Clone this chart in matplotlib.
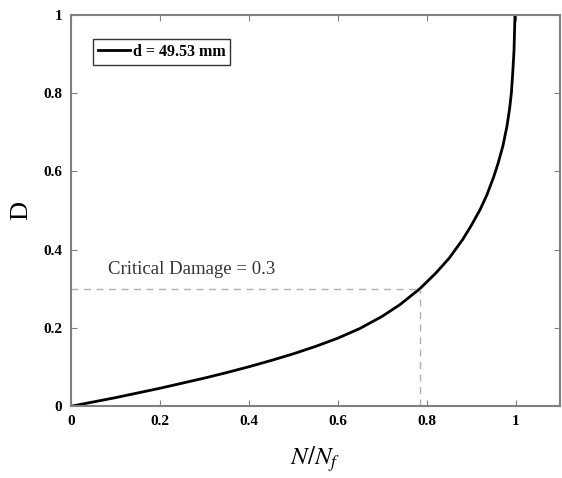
import matplotlib
matplotlib.use('Agg')
import matplotlib.pyplot as plt

# values
ratio = [0, 0.05, 0.1, 0.15, 0.2, 0.25, 0.3, 0.35, 0.4, 0.45, 0.5, 0.55, 0.6, 0.65, 0.7,
         0.74, 0.784, 0.82, 0.85, 0.88, 0.9, 0.92, 0.935, 0.95, 0.96, 0.971, 0.98, 0.986,
         0.99, 0.993, 0.996, 0.998]
damage = [0, 0.011, 0.022, 0.034, 0.046, 0.059, 0.072, 0.086, 0.101, 0.117, 0.134, 0.153,
          0.174, 0.199, 0.23, 0.26, 0.30, 0.34, 0.378, 0.425, 0.462, 0.503, 0.54, 0.585,
          0.62, 0.665, 0.715, 0.76, 0.80, 0.85, 0.91, 0.995]
crit_d = 0.3
crit_n = 0.784
legend_label = 'd = 49.53 mm'

plt.rcParams['font.family'] = ['Liberation Serif', 'DejaVu Serif']
plt.rcParams['mathtext.fontset'] = 'stix'

fig = plt.figure(figsize=(5.62, 4.78), dpi=100)
ax = fig.add_axes([0.126, 0.150, 0.871, 0.819])

ax.plot(ratio, damage, color='black', lw=2, label=legend_label)
ax.plot([0, crit_n], [crit_d, crit_d], ls=(0, (5, 4)), color='#b0b0b0', lw=1)
ax.plot([crit_n, crit_n], [0, crit_d], ls=(0, (5, 4)), color='#b0b0b0', lw=1)
ax.text(0.083, 0.349, 'Critical Damage = 0.3', fontsize=13.5, color='#333333', va='center')

ax.set_xlim(0, 1.1)
ax.set_ylim(0, 1)
ax.set_xticks([0, 0.2, 0.4, 0.6, 0.8, 1])
ax.set_yticks([0, 0.2, 0.4, 0.6, 0.8, 1])
ax.set_xticklabels(['0', '0.2', '0.4', '0.6', '0.8', '1'], fontweight='bold', fontsize=11)
ax.set_yticklabels(['0', '0.2', '0.4', '0.6', '0.8', '1'], fontweight='bold', fontsize=11)
ax.tick_params(direction='in', top=True, right=True, length=4, color='#808080', pad=6)
for s in ax.spines.values():
    s.set_color('#808080')
    s.set_linewidth(1.5)

ax.set_xlabel('$N/N_f$', fontsize=18, labelpad=12)
ax.set_ylabel('D', fontsize=19, labelpad=8)

leg = ax.legend(loc='upper left', bbox_to_anchor=(0.03, 0.958), fancybox=False,
                edgecolor='black', handlelength=2.0, handletextpad=0.15, borderpad=0.3,
                prop={'weight': 'bold', 'size': 11.5})
leg.get_frame().set_linewidth(1)

plt.savefig('out.png', dpi=100)
plt.close()
